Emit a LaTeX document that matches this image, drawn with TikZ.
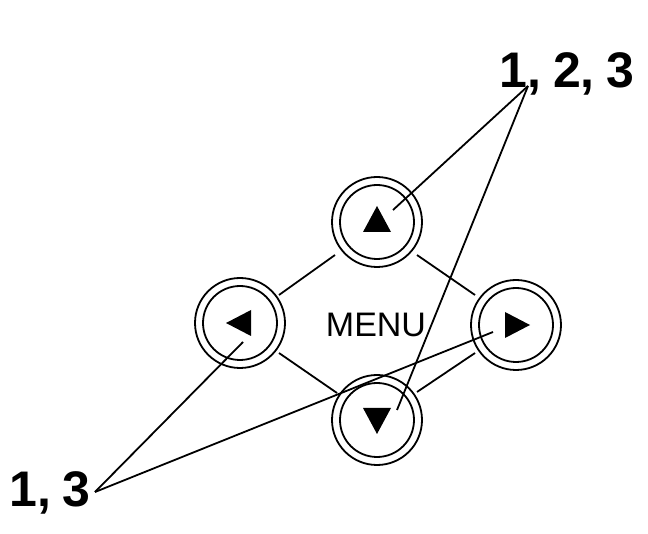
\documentclass[tikz,border=0pt]{standalone}
\usepackage{fontspec}
\setmainfont{Liberation Sans}
\begin{document}
\begin{tikzpicture}[x=1pt,y=-1pt,line width=1.8pt,
  btn/.style={circle,draw,fill=white,minimum size=90pt,inner sep=0pt,
    path picture={\draw (path picture bounding box.center) circle (37pt);}},
  lbl/.style={font=\fontsize{50}{50}\selectfont\bfseries,inner sep=0pt,anchor=base},
  tri/.style={fill=black,draw=none}]
\useasboundingbox (0,0) rectangle (648,534);
\draw (335,255) -- (279,295);
\draw (279,353) -- (337,393);
\draw (417,255) -- (475,295);
\draw (475,353) -- (417,392);
\node[btn] (up) at (377,222) {};
\node[btn] (left) at (240,323) {};
\node[btn] (right) at (516,325) {};
\node[btn] (down) at (377,420) {};
\fill[tri] (363,232) -- (391,232) -- (377,206) -- cycle;
\fill[tri] (363,408) -- (391,408) -- (377,434) -- cycle;
\fill[tri] (226,323) -- (251,310) -- (251,336) -- cycle;
\fill[tri] (530,325) -- (505,312) -- (505,338) -- cycle;
\node[font=\fontsize{34}{34}\selectfont,inner sep=0pt] (menu) at (376,325) {MENU};
\node[lbl] (l123) at (567,88) {1,\hspace{-2pt} 2,\hspace{-2pt} 3};
\node[lbl] (l13) at (50,506) {1,\hspace{-2pt} 3};
\coordinate (a) at (528,86);
\coordinate (b) at (95,492);
\coordinate (tu) at (393,210);
\coordinate (td) at (397,410);
\coordinate (tl) at (243,342);
\coordinate (tr) at (493,332);
\draw (a) -- (tu);
\draw (a) -- (td);
\draw (b) -- (tl);
\draw (b) -- (tr);
\end{tikzpicture}
\end{document}
